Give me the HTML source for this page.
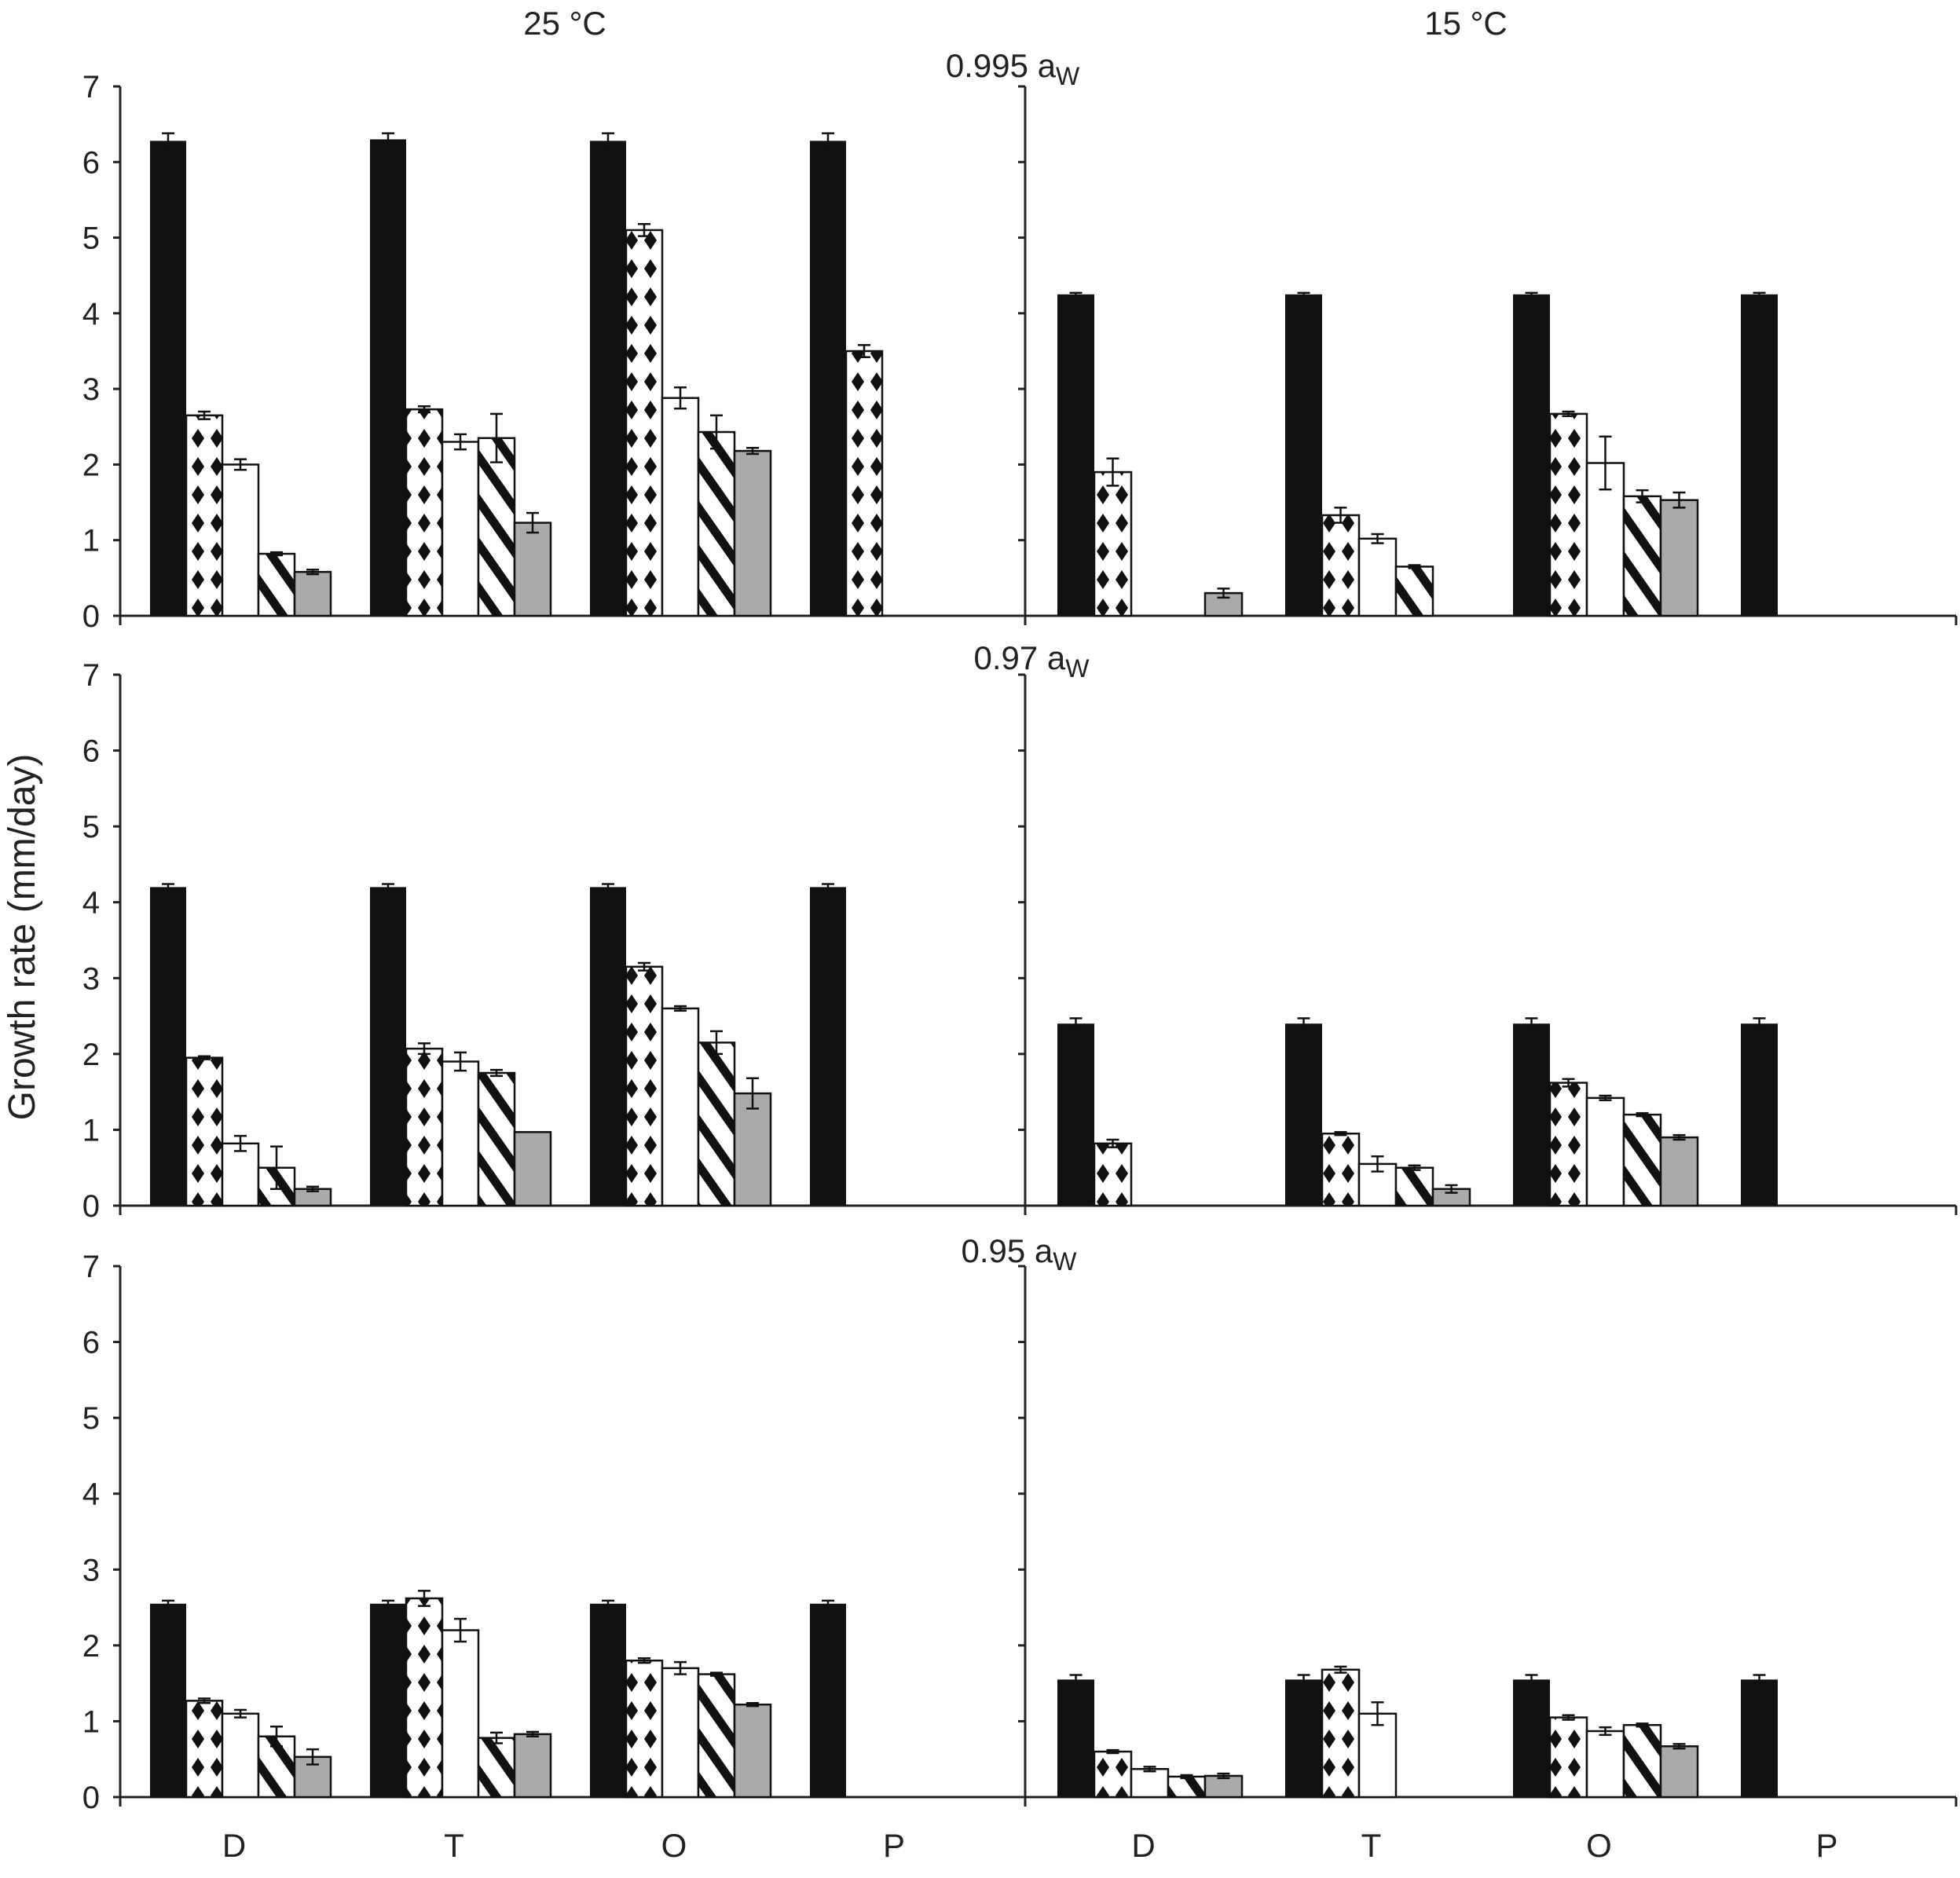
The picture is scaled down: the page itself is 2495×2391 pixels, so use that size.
<!DOCTYPE html>
<html><head><meta charset="utf-8">
<style>html,body{margin:0;padding:0;background:#fff}svg{display:block}text{font-family:"Liberation Sans",sans-serif;fill:#222}</style>
</head><body>
<svg id="chart" width="2495" height="2391" viewBox="0 0 2495 2391" xmlns="http://www.w3.org/2000/svg">
<defs>
<pattern id="dots" width="24" height="36" patternUnits="userSpaceOnUse">
<rect width="24" height="36" fill="#fff"/>
<polygon points="12,6 20,18 12,30 4,18" fill="#111"/>
</pattern>
<pattern id="stripes" width="32" height="32" patternUnits="userSpaceOnUse" patternTransform="rotate(-35)">
<rect width="32" height="32" fill="#fff"/>
<rect x="0" y="0" width="11" height="32" fill="#111"/>
</pattern>
</defs>
<text x="719" y="44" font-size="42" text-anchor="middle">25 °C</text>
<text x="1866" y="44" font-size="42" text-anchor="middle">15 °C</text>
<text transform="translate(44,1193) rotate(-90)" font-size="48" text-anchor="middle">Growth rate (mm/day)</text>
<g id="plots"></g>
</svg>
<script>
const categories = ["D","T","O","P"];
const seriesFills = ["#111","url(#dots)","#fff","url(#stripes)","#aaa"];
const p1L = [[6.28,2.65,2.0,0.82,0.58],[6.3,2.73,2.3,2.35,1.23],[6.28,5.1,2.88,2.43,2.18],[6.28,3.5,null,null,null]];
const p1R = [[4.25,1.9,null,null,0.3],[4.25,1.33,1.02,0.65,null],[4.25,2.67,2.02,1.58,1.53],[4.25,null,null,null,null]];
const p2L = [[4.2,1.95,0.82,0.5,0.22],[4.2,2.07,1.9,1.75,0.97],[4.2,3.15,2.6,2.15,1.48],[4.2,null,null,null,null]];
const p2R = [[2.4,0.82,null,null,null],[2.4,0.95,0.55,0.5,0.22],[2.4,1.62,1.42,1.2,0.9],[2.4,null,null,null,null]];
const p3L = [[2.55,1.27,1.1,0.8,0.53],[2.55,2.62,2.2,0.78,0.83],[2.55,1.8,1.7,1.62,1.22],[2.55,null,null,null,null]];
const p3R = [[1.55,0.6,0.37,0.27,0.28],[1.55,1.68,1.1,null,null],[1.55,1.05,0.87,0.95,0.67],[1.55,null,null,null,null]];
const e1L = [[0.1,0.05,0.07,0.02,0.03],[0.08,0.04,0.1,0.32,0.13],[0.1,0.08,0.14,0.22,0.04],[0.1,0.08,0,0,0]];
const e1R = [[0.02,0.18,0,0,0.06],[0.02,0.1,0.06,0.02,0],[0.02,0.03,0.35,0.08,0.1],[0.02,0,0,0,0]];
const e2L = [[0.04,0.02,0.1,0.28,0.03],[0.04,0.07,0.12,0.04,0],[0.04,0.05,0.03,0.15,0.2],[0.04,0,0,0,0]];
const e2R = [[0.07,0.05,0,0,0],[0.07,0.02,0.1,0.03,0.05],[0.07,0.05,0.03,0.02,0.03],[0.07,0,0,0,0]];
const e3L = [[0.04,0.03,0.05,0.13,0.1],[0.04,0.1,0.15,0.07,0.03],[0.04,0.03,0.08,0.02,0.02],[0.04,0,0,0,0]];
const e3R = [[0.06,0.02,0.03,0.02,0.03],[0.06,0.04,0.15,0,0],[0.06,0.03,0.05,0.02,0.03],[0.06,0,0,0,0]];
const yTicks = [0,1,2,3,4,5,6,7];
const panelLabels = ["0.995","0.97","0.95"];

const NS="http://www.w3.org/2000/svg";
const root=document.getElementById('plots');
function mk(tag,attrs,parent){const e=document.createElementNS(NS,tag);for(const k in attrs)e.setAttribute(k,attrs[k]);(parent||root).appendChild(e);return e;}

const rows=[{y0:784,y7:110,L:p1L,R:p1R,EL:e1L,ER:e1R,lab:[1289,98]},
            {y0:1535,y7:859,L:p2L,R:p2R,EL:e2L,ER:e2R,lab:[1313,852]},
            {y0:2288,y7:1612,L:p3L,R:p3R,EL:e3L,ER:e3R,lab:[1297,1607]}];
const panels=[{x0:153,x1:1305,off:38,bw:46,pitch:280},{x0:1305,x1:2490,off:41,bw:47,pitch:290}];

rows.forEach((r,ri)=>{
  const yS=v=>r.y0-(r.y0-r.y7)*v/7;
  const lab=mk('text',{x:r.lab[0],y:r.lab[1],'font-size':42,'text-anchor':'middle'});
  
  
  lab.textContent=panelLabels[ri]+' a';
  const sub=mk('tspan',{'font-size':32,dy:10},lab);sub.textContent='W';
  [r.L,r.R].forEach((data,pi)=>{
    const P=panels[pi];const errs=pi?r.ER:r.EL;
    const g=mk('g',{});
    
    
    mk('line',{x1:P.x0,y1:r.y7,x2:P.x0,y2:r.y0+12,stroke:'#222','stroke-width':3},g);
    mk('line',{x1:P.x0,y1:r.y0,x2:P.x1,y2:r.y0,stroke:'#222','stroke-width':3},g);
    mk('line',{x1:P.x1,y1:r.y0,x2:P.x1,y2:r.y0+12,stroke:'#222','stroke-width':3},g);
    yTicks.forEach(t=>{
      mk('line',{x1:P.x0-9,y1:yS(t),x2:P.x0,y2:yS(t),stroke:'#222','stroke-width':3},g);
      if(pi===0){const tl=mk('text',{x:P.x0-26,y:yS(t)+14,'font-size':40,'text-anchor':'end'},g);
        
        
        tl.textContent=t;}
    });
    data.forEach((vals,ci)=>{
      const gx=P.x0+P.off+P.pitch*ci;
      if(ri===2){const cl=mk('text',{x:gx+P.bw*2.5-8,y:2364,'font-size':42,'text-anchor':'middle'},g);
        
        
        cl.textContent=categories[ci];}
      vals.forEach((v,si)=>{
        if(v===null)return;
        const x=gx+si*P.bw;
        const b=mk('rect',{x:x,y:yS(v),width:P.bw,height:r.y0-yS(v),fill:seriesFills[si],stroke:'#111','stroke-width':si===0?0:2.5},g);
        
        
        const e=errs[ci][si]||0;
        if(e>0){const cx=x+P.bw/2;
          mk('line',{x1:cx,y1:yS(v+e),x2:cx,y2:yS(v-e),stroke:'#111','stroke-width':2.5},g);
          mk('line',{x1:cx-8,y1:yS(v+e),x2:cx+8,y2:yS(v+e),stroke:'#111','stroke-width':2.5},g);
          mk('line',{x1:cx-8,y1:yS(v-e),x2:cx+8,y2:yS(v-e),stroke:'#111','stroke-width':2.5},g);}
      });
    });
  });
});
</script>
</body></html>
